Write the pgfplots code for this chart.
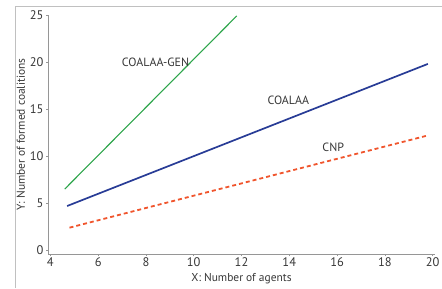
\documentclass[border=0pt]{standalone}
\usepackage{fontspec}
\setmainfont{PT Sans}
\usepackage{pgfplots}
\pgfplotsset{compat=1.18}
\definecolor{cgreen}{RGB}{45,165,75}
\definecolor{cblue}{RGB}{40,60,150}
\definecolor{cred}{RGB}{240,85,45}
\definecolor{cax}{RGB}{150,150,150}
\definecolor{ctxt}{RGB}{55,55,55}
\begin{document}
\begin{tikzpicture}[x=1bp,y=1bp]
\useasboundingbox (0,0) rectangle (442,288);
\draw[cax!60, line width=0.8bp] (15,0) -- (15,282) -- (442,282);
\begin{axis}[
  at={(48bp,34bp)}, anchor=south west,
  scale only axis, width=387bp, height=239bp,
  xmin=3.9, xmax=20.1, ymin=-0.4, ymax=25,
  axis x line*=bottom, axis y line*=left,
  axis line style={cax, line width=0.9bp, -},
  xtick={4,6,...,20}, ytick={0,5,...,25},
  tick style={cax, line width=0.6bp}, major tick length=2bp,
  tick align=outside,
  ticklabel style={font=\fontsize{12.5}{14}\selectfont, text=ctxt},
  xticklabel style={yshift=1.5bp},
  yticklabel style={xshift=1bp},
  /pgf/number format/assume math mode=true,
  xlabel={X: Number of agents}, ylabel={Y: Number of formed coalitions},
  label style={font=\fontsize{11.5}{13}\selectfont, text=ctxt},
  xlabel style={yshift=1bp},
  ylabel style={yshift=-2bp},
  clip=false,
]
\addplot[cgreen, line width=1.1bp] coordinates {(4.6,6.5) (11.8,24.9)};
\addplot[cblue, line width=1.7bp] coordinates {(4.7,4.7) (19.8,19.8)};
\addplot[cred, line width=1.8bp, dash pattern=on 4bp off 3bp] coordinates {(4.8,2.4) (19.8,12.2)};
\node[font=\fontsize{12}{14}\selectfont, text=ctxt] at (axis cs:8.4,20.0) {COALAA-GEN};
\node[font=\fontsize{12}{14}\selectfont, text=ctxt] at (axis cs:13.96,15.96) {COALAA};
\node[font=\fontsize{12}{14}\selectfont, text=ctxt] at (axis cs:15.84,10.9) {CNP};
\end{axis}
\end{tikzpicture}
\end{document}
